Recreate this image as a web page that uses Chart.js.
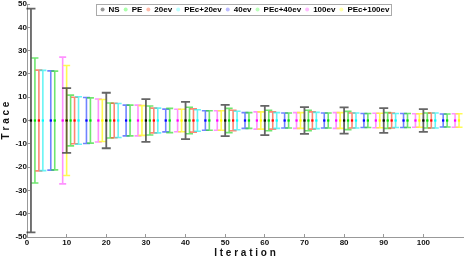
<!DOCTYPE html>
<html>
<head>
<meta charset="utf-8">
<script src="https://cdn.jsdelivr.net/npm/chart.js@4"></script>
<style>
html, body { margin: 0; padding: 0; background: #fff; }
#wrap { width: 467px; height: 257px; }
</style>
</head>
<body>
<div id="wrap"><canvas id="canvas"></canvas></div>
<script>
// iterations where the error bars were sampled
var iterations = [1, 10, 20, 30, 40, 50, 60, 70, 80, 90, 100];
var seriesNames = ['NS', 'PE', '20ev', 'PEc+20ev', '40ev', 'PEc+40ev', '100ev', 'PEc+100ev'];
// each series is shifted a little along the iteration axis
var seriesShift = [0, 1, 2, 3, 5, 6, 8, 9];

// half height of the error bar (mean is 0 everywhere)
var errNS       = [48.0, 13.9, 11.9, 9.2, 8.0, 6.7, 6.3, 5.7, 5.6, 5.3, 4.9];
var errPE       = [26.8, 10.9, 7.5, 6.2, 5.7, 5.2, 4.4, 4.4, 3.9, 3.4, 3.2];
var err20       = [21.6, 10.0, 7.4, 5.3, 5.0, 4.4, 3.7, 3.7, 3.2, 3.2, 3.2];
var errPEc20    = [21.5, 10.2, 7.3, 5.3, 4.6, 4.0, 3.4, 3.5, 3.2, 3.0, 3.2];
var err40       = [21.3, 9.9, 6.6, 4.9, 4.2, 3.4, 3.2, 3.2, 3.0, 3.0, 2.8];
var errPEc40    = [21.2, 9.7, 6.6, 5.2, 4.2, 3.4, 3.2, 3.2, 3.0, 3.0, 2.8];
var err100      = [27.2, 9.2, 6.6, 4.8, 4.2, 3.7, 3.4, 3.4, 3.1, 2.9, 2.9];
var errPEc100   = [23.6, 9.0, 6.4, 4.8, 4.2, 3.7, 3.4, 3.4, 3.1, 2.9, 2.9];
var meanValue = 0;

var yTicks = [-50, -40, -30, -20, -10, 0, 10, 20, 30, 40, 50];
var xTicks = [0, 10, 20, 30, 40, 50, 60, 70, 80, 90, 100];

var allErr = [errNS, errPE, err20, errPEc20, err40, errPEc40, err100, errPEc100];
var barColors = ['rgba(50,50,50,0.75)', 'rgba(50,220,50,0.7)', 'rgba(255,70,40,0.65)', 'rgba(40,240,240,0.7)',
                 'rgba(50,80,255,0.7)', 'rgba(50,220,50,0.7)', 'rgba(255,100,255,0.7)', 'rgba(255,250,40,0.8)'];
var dotColors = ['#000000', '#00dd00', '#ff0000', '#00ffff', '#0000ff', '#00dd00', '#ff00ff', '#ffff00'];
var legendColors = ['#999999', '#aaffaa', '#ffbbaa', '#bbffff', '#bbbbff', '#bbffbb', '#ffbbff', '#ffffaa'];
var legendPad = 4;

var datasets = seriesNames.map(function(name, s){
	return {
		label: name,
		err: allErr[s],
		data: iterations.map(function(it){ return { x: it + seriesShift[s], y: meanValue }; }),
		pointStyle: 'rect',
		pointRadius: 1.6,
		backgroundColor: dotColors[s],
		borderColor: dotColors[s],
		borderWidth: 0,
		barColor: barColors[s],
		legendColor: legendColors[s]
	};
});

var errorBars = {
	id: 'errorBars',
	beforeLayout: function(chart){
		// legend sits inside the plot, so it must not take room from it
		var lg = chart.legend;
		if(lg && !lg.patched){
			var fit = lg.fit;
			lg.fit = function(){ fit.call(this); this.realHeight = this.height; this.height = 0; };
			lg.patched = true;
		}
	},
	beforeDraw: function(chart){
		var lg = chart.legend, ca = chart.chartArea;
		if(!lg) return;
		lg.left = ca.left; lg.right = ca.right; lg.width = ca.right - ca.left;
		lg.top = 1.5; lg.height = lg.realHeight; lg.bottom = lg.top + lg.realHeight;
	},
	beforeDatasetsDraw: function(chart){
		var ctx = chart.ctx, xs = chart.scales.x, ys = chart.scales.y;
		ctx.save();
		// NS is drawn last so it sits on top
		var order = [1, 2, 3, 4, 5, 6, 7, 0];
		order.forEach(function(i){
			var ds = chart.data.datasets[i];
			var cap = i === 0 ? 4.5 : 3.5;
			ctx.strokeStyle = ds.barColor;
			ctx.lineWidth = i === 0 ? 1.8 : 1.6;
			ds.data.forEach(function(p, k){
				var px = xs.getPixelForValue(p.x);
				var top = ys.getPixelForValue(p.y + ds.err[k]);
				var bot = ys.getPixelForValue(p.y - ds.err[k]);
				ctx.beginPath();
				ctx.moveTo(px, top); ctx.lineTo(px, bot);
				ctx.moveTo(px - cap, top); ctx.lineTo(px + cap, top);
				ctx.moveTo(px - cap, bot); ctx.lineTo(px + cap, bot);
				ctx.stroke();
			});
		});
		ctx.restore();
	},
	afterDraw: function(chart){
		var lg = chart.legend;
		if(!lg || !lg.lineWidths) return;
		var ctx = chart.ctx;
		var w = lg.lineWidths[0];
		var start = (lg.left + legendPad + lg.right - w) / 2;
		var x0 = Math.round(start - 5) + 0.5;
		var x1 = Math.round(start + w - legendPad + 1.5) + 0.5;
		var yc = lg.top + legendPad + 4;
		ctx.save();
		ctx.strokeStyle = '#aaaaaa';
		ctx.lineWidth = 1;
		ctx.strokeRect(x0, Math.round(yc - 5.5) + 0.5, x1 - x0, 11);
		ctx.restore();
	}
};

var canvas = document.getElementById('canvas');
new Chart(canvas, {
	type: 'scatter',
	data: { datasets: datasets },
	plugins: [errorBars],
	options: {
		responsive: true,
		maintainAspectRatio: false,
		animation: false,
		layout: { padding: { top: 4, right: 0, left: 0, bottom: -2 } },
		plugins: {
			tooltip: { enabled: false },
			legend: {
				position: 'top',
				align: 'center',
				labels: {
					usePointStyle: true,
					pointStyle: 'circle',
					pointStyleWidth: 4,
					boxHeight: 3,
					padding: legendPad,
					color: '#111',
					font: { family: 'Liberation Sans', size: 8, weight: 'bold', lineHeight: 1 },
					generateLabels: function(chart){
						return chart.data.datasets.map(function(ds, i){
							return {
								text: ds.label,
								fillStyle: ds.legendColor,
								strokeStyle: ds.legendColor,
								lineWidth: 0,
								pointStyle: 'circle',
								datasetIndex: i
							};
						});
					}
				}
			}
		},
		scales: {
			x: {
				type: 'linear',
				min: 0,
				max: 110,
				afterBuildTicks: function(scale){
					scale.ticks = xTicks.map(function(v){ return { value: v }; });
				},
				afterFit: function(scale){
					scale.height = 22;
					scale.paddingLeft = 0;
					scale.paddingRight = 0;
				},
				ticks: {
					color: '#111',
					padding: 4,
					maxRotation: 0,
					font: { family: 'Liberation Sans', size: 8, weight: 'bold' }
				},
				grid: { drawOnChartArea: false, tickLength: -3, color: '#999' },
				border: { display: true, color: '#999' },
				title: {
					display: true,
					text: 'I t e r a t i o n',
					color: '#111',
					padding: { top: 0, bottom: 0 },
					font: { family: 'Liberation Sans', size: 10, weight: 'bold' }
				}
			},
			y: {
				type: 'linear',
				min: -50,
				max: 50,
				afterBuildTicks: function(scale){
					scale.ticks = yTicks.map(function(v){ return { value: v }; });
				},
				afterFit: function(scale){
					scale.width = 27;
					scale.paddingTop = 0;
					scale.paddingBottom = 0;
				},
				ticks: {
					color: '#111',
					padding: 3,
					font: { family: 'Liberation Sans', size: 8, weight: 'bold' }
				},
				grid: { drawOnChartArea: false, tickLength: -3, color: '#999' },
				border: { display: true, color: '#999' },
				title: {
					display: true,
					text: 'T r a c e',
					color: '#111',
					padding: { top: 0, bottom: 2 },
					font: { family: 'Liberation Sans', size: 10, weight: 'bold' }
				}
			}
		}
	}
});
</script>
</body>
</html>
